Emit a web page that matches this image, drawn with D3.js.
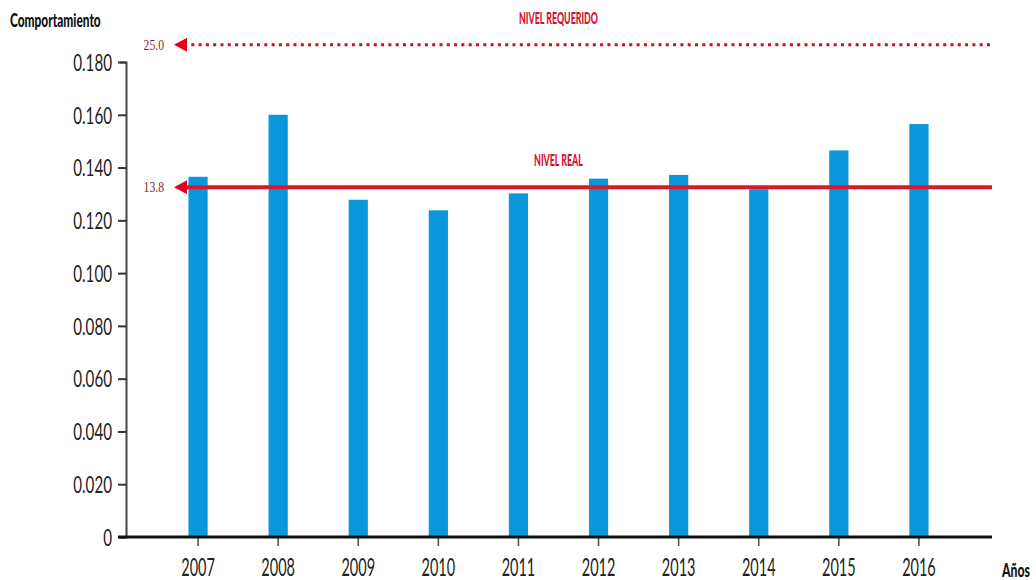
<!DOCTYPE html>
<html>
<head>
<meta charset="utf-8">
<script src="https://cdn.jsdelivr.net/npm/d3@7"></script>
<style>
  html, body { margin: 0; padding: 0; background: #fff; }
  svg { display: block; }
</style>
</head>
<body>
<div id="chart"></div>
<script>
// datos
var anios = ["2007", "2008", "2009", "2010", "2011", "2012", "2013", "2014", "2015", "2016"];
var comportamiento = [0.1365, 0.160, 0.1278, 0.1238, 0.1302, 0.1358, 0.1372, 0.1318, 0.1465, 0.1565];
var yTicks = [0, 0.02, 0.04, 0.06, 0.08, 0.10, 0.12, 0.14, 0.16, 0.18];
var nivelEtiquetas = ["NIVEL REQUERIDO", "NIVEL REAL"];
var nivelValores = ["25.0", "13.8"];
var nivelEnEje = [0.1865, 0.1325];

var W = 1036, H = 580;
var font = "Lato, 'Open Sans', sans-serif";

var svg = d3.select("#chart")
	.append("svg")
	.attr("width", W)
	.attr("height", H);

var x = d3.scaleBand()
	.domain(anios)
	.range([158, 959])
	.paddingInner(0.76)
	.paddingOuter(0.38);

var y = d3.scaleLinear()
	.domain([0, 0.18])
	.range([537, 62]);

var x0 = 126;

// texto comprimido horizontalmente
function squeezed(g, txt, px, py, size, sx, anchor) {
	return g.append("text")
		.attr("transform", "translate(" + px + "," + py + ") scale(" + sx + ",1)")
		.attr("text-anchor", anchor || "start")
		.style("font-family", font)
		.style("font-size", size + "px")
		.text(txt);
}

// barras
svg.append("g")
	.selectAll("rect")
	.data(comportamiento)
	.join("rect")
	.attr("x", function (d, i) { return x(anios[i]); })
	.attr("y", function (d) { return y(d); })
	.attr("width", x.bandwidth())
	.attr("height", function (d) { return y(0) - y(d); })
	.attr("fill", "#0b97da");

// eje y
var yAxis = svg.append("g")
	.attr("transform", "translate(" + x0 + ",0)")
	.call(d3.axisLeft(y)
		.tickValues(yTicks)
		.tickSize(8)
		.tickSizeOuter(6)
		.tickFormat(function (d) { return d === 0 ? "0" : d3.format(".3f")(d); }));
yAxis.select(".domain").attr("stroke", "#444").attr("stroke-width", 2);
yAxis.selectAll(".tick line").attr("stroke", "#333").attr("stroke-width", 2);
yAxis.selectAll(".tick text")
	.attr("x", -14 / 0.66)
	.attr("dy", "0.36em")
	.attr("transform", "scale(0.66,1)")
	.attr("fill", "#222")
	.style("font-family", font)
	.style("font-size", "23px");

// eje x
var xAxis = svg.append("g")
	.attr("transform", "translate(0," + y(0) + ")")
	.call(d3.axisBottom(x).tickSize(9).tickPadding(0));
xAxis.select(".domain").remove();
xAxis.selectAll(".tick line").attr("stroke", "#555").attr("stroke-width", 1.6);
xAxis.selectAll(".tick text")
	.attr("y", 0)
	.attr("dy", 0)
	.attr("transform", "translate(0,39) scale(0.58,1)")
	.attr("fill", "#222")
	.style("font-family", font)
	.style("font-size", "25px");
svg.append("line")
	.attr("x1", 118).attr("x2", 992)
	.attr("y1", y(0)).attr("y2", y(0))
	.attr("stroke", "#111")
	.attr("stroke-width", 3);

// niveles
var xMid = (x.range()[0] + x.range()[1]) / 2;
nivelEnEje.forEach(function (v, i) {
	var yy = y(v);
	var dotted = i === 0;
	var g = svg.append("g");
	g.append("line")
		.attr("x1", 184).attr("x2", 992)
		.attr("y1", yy).attr("y2", yy)
		.attr("stroke", dotted ? "#c0122c" : "#d8192c")
		.attr("stroke-width", dotted ? 3 : 4)
		.attr("stroke-dasharray", dotted ? "3,4.3" : null);
	g.append("path")
		.attr("d", "M" + 174 + "," + yy + " L" + 187 + "," + (yy - 7) + " L" + 187 + "," + (yy + 7) + " Z")
		.attr("fill", "#e3001b");
	squeezed(g, nivelValores[i], 164, yy + 5, 15, 0.78, "end")
		.style("font-family", "'Liberation Serif', serif")
		.attr("fill", "#8e1c2c");
	squeezed(g, nivelEtiquetas[i], xMid, yy - 21, 17, 0.52, "middle")
		.style("font-weight", "900")
		.attr("fill", "#d4122e");
});

// titulos de ejes
squeezed(svg, "Comportamiento", 10, 27, 18, 0.66)
	.style("font-weight", "900")
	.attr("fill", "#111");
squeezed(svg, "Años", 1002, 577, 18, 0.68)
	.style("font-weight", "900")
	.attr("fill", "#111");
</script>
</body>
</html>
